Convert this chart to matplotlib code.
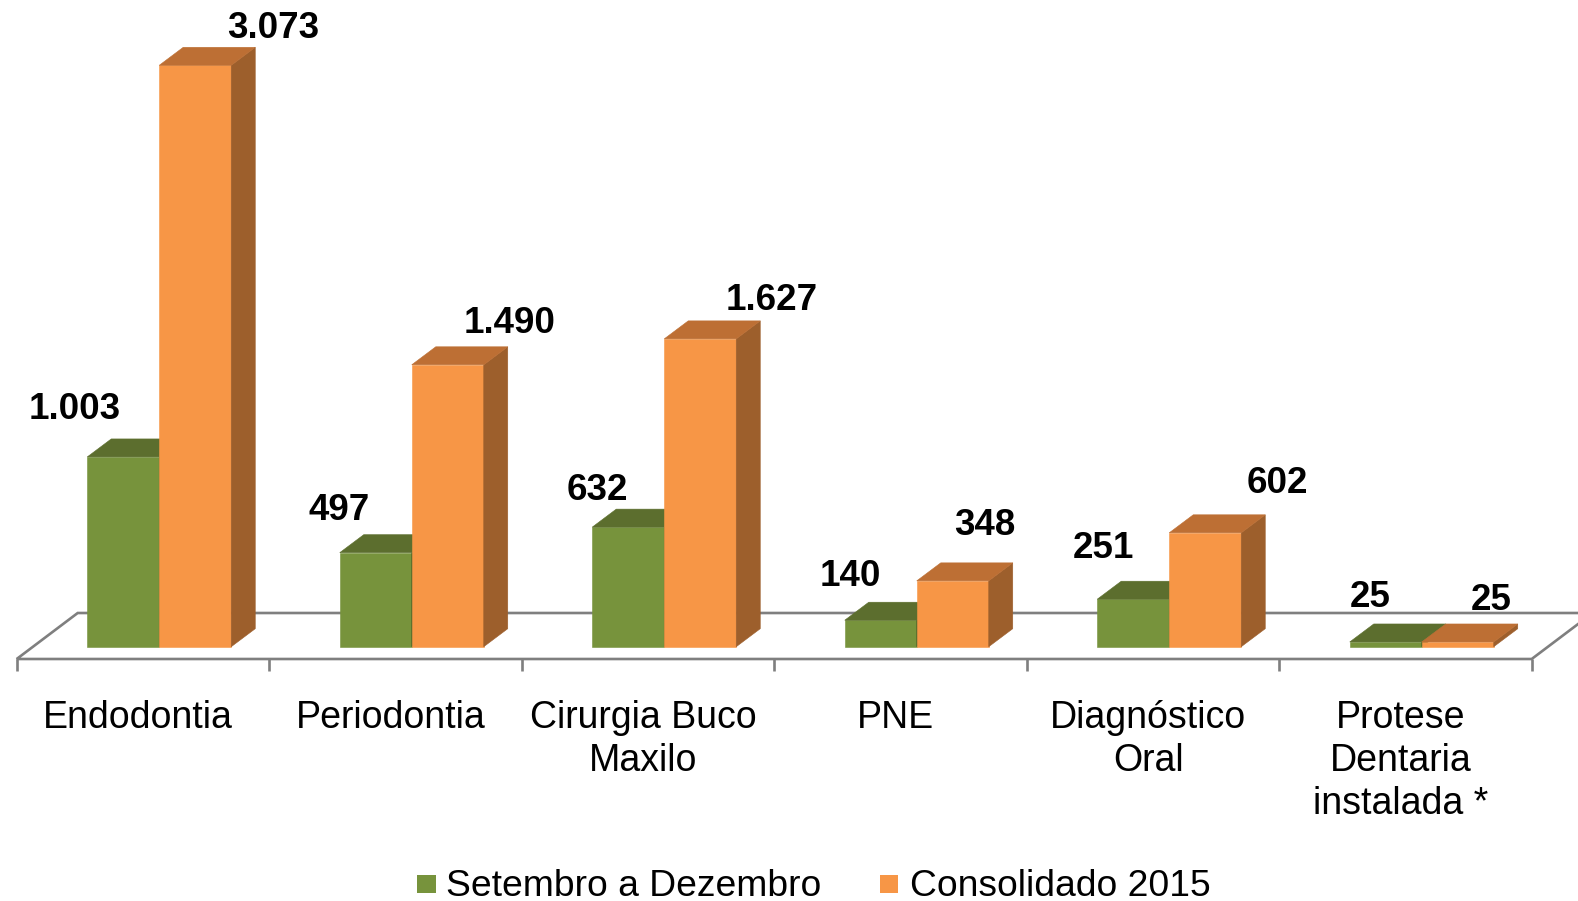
import matplotlib
matplotlib.use("Agg")
import matplotlib.pyplot as plt
from matplotlib.patches import Polygon, Rectangle

# ---------------- data ----------------
categories = ["Endodontia", "Periodontia", "Cirurgia Buco\nMaxilo", "PNE",
              "Diagnóstico\nOral", "Protese\nDentaria\ninstalada *"]
set_dez = [1003, 497, 632, 140, 251, 25]
consolidado = [3073, 1490, 1627, 348, 602, 25]
value_labels_green = ["1.003", "497", "632", "140", "251", "25"]
value_labels_orange = ["3.073", "1.490", "1.627", "348", "602", "25"]
series_names = ["Setembro a Dezembro", "Consolidado 2015"]

# ---------------- style / layout ----------------
W, H, DPI = 1578, 901, 100
plt.rcParams['font.family'] = ['Liberation Sans', 'DejaVu Sans']

GREEN_FRONT, GREEN_TOP, GREEN_SIDE = "#77933C", "#5C6E2E", "#4F6228"
ORANGE_FRONT, ORANGE_TOP, ORANGE_SIDE = "#F79646", "#BD6F34", "#9D5F2C"
FLOOR_COL = "#7F7F7F"

# label offsets in pixels relative to front-top centre of each bar
green_off = [(-49, 47), (-37, 42), (-31, 37), (-30, 44), (-30, 51), (-16, 44)]
orange_off = [(78, 37), (62, 41), (71, 38), (32, 55), (72, 49), (33, 41)]

fig = plt.figure(figsize=(W / DPI, H / DPI), dpi=DPI)
ax_left, ax_right = 33, 33 + 1515
ax_bottom = H - 646.7
ax_height = 581.4
ax = fig.add_axes([ax_left / W, ax_bottom / H, (ax_right - ax_left) / W, ax_height / H])
ax.set_xlim(0, len(categories))
ax.set_ylim(0, max(consolidado))
ax.axis("off")

# pixel -> data conversion
p0 = ax.transData.transform((0, 0))
p1 = ax.transData.transform((1, 1))
PX = 1.0 / (p1[0] - p0[0])      # data x per pixel
PY = 1.0 / (p1[1] - p0[1])      # data y per pixel

bar_w = 72 * PX
DX, DY = 24 * PX, 18 * PY       # depth of bars

# ---------------- floor ----------------
n = len(categories)
fx0, fy0 = -16.3 * PX, -12.3 * PY     # front offset
bx0, by0 = 44.7 * PX, 33.7 * PY       # back offset
floor = Polygon([(0 + fx0, fy0), (n + fx0, fy0), (n + bx0, by0), (0 + bx0, by0)],
                closed=True, facecolor="white", edgecolor=FLOOR_COL, lw=1.9,
                clip_on=False, zorder=1, joinstyle="miter")
ax.add_patch(floor)
for k in range(n + 1):
    ax.plot([k + fx0, k + fx0], [fy0, fy0 - 12 * PY], color=FLOOR_COL, lw=1.9,
            clip_on=False, zorder=1, solid_capstyle="butt")


def bar3d(x0, h, front, top, side, z):
    x1 = x0 + bar_w
    ax.bar([x0], [h], width=bar_w, align="edge", color=front, edgecolor=front,
           lw=0.4, zorder=z, clip_on=False)
    ax.add_patch(Polygon([(x1, 0), (x1, h), (x1 + DX, h + DY), (x1 + DX, DY)],
                         closed=True, facecolor=side, edgecolor=side, lw=0.4,
                         zorder=z, clip_on=False))
    ax.add_patch(Polygon([(x0, h), (x1, h), (x1 + DX, h + DY), (x0 + DX, h + DY)],
                         closed=True, facecolor=top, edgecolor=top, lw=0.4,
                         zorder=z, clip_on=False))


for k in range(n):
    c = k + 0.5
    bar3d(c - bar_w, set_dez[k], GREEN_FRONT, GREEN_TOP, GREEN_SIDE, 3 + 2 * k)
    bar3d(c, consolidado[k], ORANGE_FRONT, ORANGE_TOP, ORANGE_SIDE, 4 + 2 * k)
    gx = c - bar_w / 2
    ox = c + bar_w / 2
    ax.annotate(value_labels_green[k], xy=(gx, set_dez[k]), xytext=green_off[k],
                textcoords="offset pixels", ha="center", va="center",
                fontsize=26.5, fontweight="bold", color="black", zorder=30,
                annotation_clip=False)
    ax.annotate(value_labels_orange[k], xy=(ox, consolidado[k]), xytext=orange_off[k],
                textcoords="offset pixels", ha="center", va="center",
                fontsize=26.5, fontweight="bold", color="black", zorder=30,
                annotation_clip=False)
    ax.annotate(categories[k], xy=(c, 0), xytext=(-21, -53),
                textcoords="offset pixels", ha="center", va="top",
                fontsize=27, color="black", linespacing=1.26,
                annotation_clip=False)

# ---------------- legend ----------------
leg_items = [(417.3, GREEN_FRONT, 446.0), (880, ORANGE_FRONT, 909.5)]
for (sx, col, tx), name in zip(leg_items, series_names):
    fig.patches.append(Rectangle((sx / W, (H - 893.3) / H), 18.5 / W, 18.3 / H,
                                 transform=fig.transFigure, facecolor=col,
                                 edgecolor="none"))
    fig.text(tx / W, (H - 895.7) / H, name, ha="left", va="baseline",
             fontsize=26.8, color="black")

fig.savefig("out.png", dpi=DPI)
